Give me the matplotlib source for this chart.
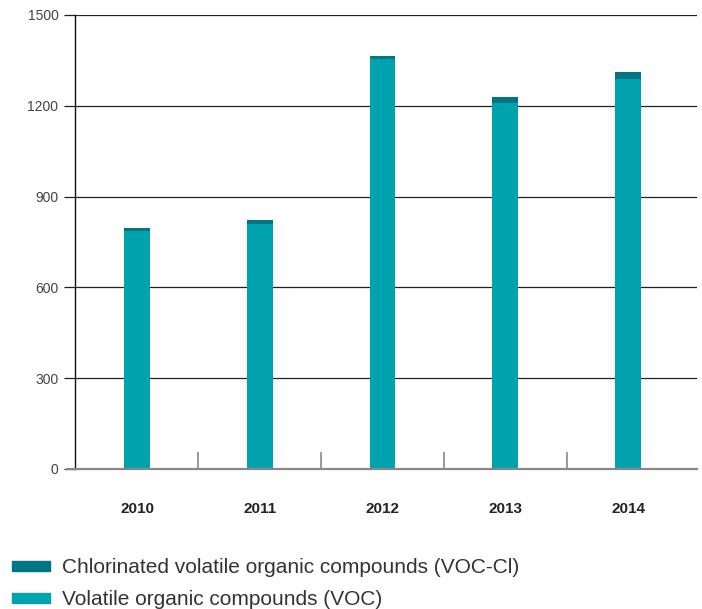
import numpy as np
import matplotlib.pyplot as plt
from matplotlib.patches import Patch

plt.rcParams['font.family'] = ['Liberation Sans', 'DejaVu Sans']

# Data
years = ['2010', '2011', '2012', '2013', '2014']
voc = [787, 810, 1354, 1208, 1288]
voc_cl = [10, 11, 10, 20, 23]

col_voc = '#00a3ad'
col_cl = '#007585'

fig = plt.figure(figsize=(7.02, 6.09), dpi=100)
ax = fig.add_axes([0.107, 0.2299, 0.886, 0.7455])

x = np.arange(len(years))
ax.bar(x, voc, width=0.21, color=col_voc, zorder=3)
ax.bar(x, voc_cl, width=0.21, bottom=voc, color=col_cl, zorder=3)

ax.set_xlim(-0.505, len(years) - 0.438)
ax.set_ylim(0, 1500)
ax.set_yticks([0, 300, 600, 900, 1200, 1500])
ax.yaxis.grid(True, color='#222222', linewidth=0.9, zorder=1)

for s in ['top', 'right']:
    ax.spines[s].set_visible(False)
ax.spines['left'].set_color('#111111')
ax.spines['left'].set_linewidth(1.0)
ax.spines['bottom'].set_visible(False)
# bottom baseline extends past the y axis
ax.plot([-0.57, len(years) - 0.438], [0, 0], color='#888888', linewidth=1.6,
        clip_on=False, zorder=4)

ax.tick_params(axis='y', length=8, width=0.9, color='#222222', labelsize=10,
               labelcolor='#444444', pad=4)
ax.set_xticks(x)
ax.set_xticklabels(years, fontsize=11, fontweight='bold', color='#222222')
ax.tick_params(axis='x', length=0, pad=24)
# separators between categories
ax.set_xticks(x[:-1] + 0.5, minor=True)
ax.tick_params(axis='x', which='minor', direction='in', length=12, width=1.2,
               color='#888888')

handles = [Patch(color=col_cl, label='Chlorinated volatile organic compounds (VOC-Cl)'),
           Patch(color=col_voc, label='Volatile organic compounds (VOC)')]
fig.legend(handles=handles, loc='upper left', bbox_to_anchor=(0.017, 0.083),
           frameon=False, fontsize=15, handlelength=1.83, handleheight=0.34,
           handletextpad=0.58, labelspacing=0.62, labelcolor='#333333',
           borderaxespad=0, borderpad=0)

fig.savefig('out.png', dpi=100)
